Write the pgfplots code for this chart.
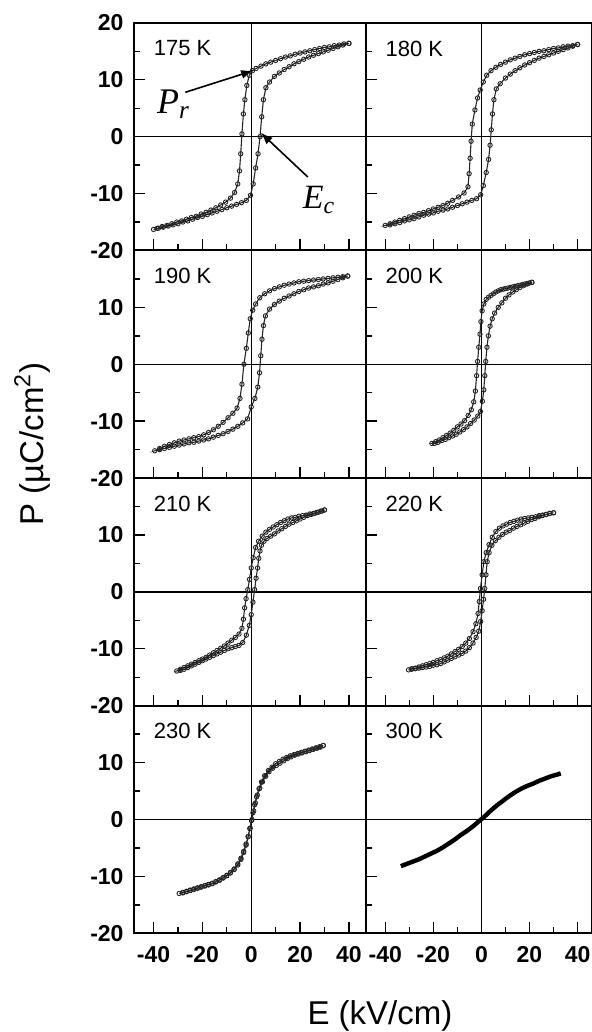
\documentclass[border=0pt]{standalone}
\usepackage{fontspec}
\setmainfont{Liberation Sans}
\newfontfamily\seriffont{Liberation Serif}
\usepackage{pgfplots}
\pgfplotsset{compat=1.18}
\usetikzlibrary{arrows.meta}

\tikzset{plabel/.style={anchor=west, inner sep=0pt, font=\fontsize{11}{12}\selectfont},
  zline/.style={line width=0.7pt}}
\pgfplotsset{
  panel/.style={
    scale only axis, height=113.8pt,
    ymin=-20, ymax=20,
    ytick={-20,-10,0,10,20}, minor ytick={-15,-5,5,15},
    xtick={-40,-20,0,20,40}, minor xtick={-30,-10,10,30},
    xtick pos=bottom, ytick pos=left,
    tick align=inside,
    major tick length=5.5pt, minor tick length=3pt,
    tick style={black, line width=0.7pt},
    axis line style={black, line width=1pt},
    xticklabels={}, yticklabels={},
    tick label style={font=\fontsize{11.5}{12}\selectfont\bfseries},
    yticklabel style={xshift=-1.7pt},
    xticklabel style={yshift=-3.2pt},
  },
  leftp/.style={panel, at={(67pt,#1)}, anchor=south west, width=116pt, xmin=-48, xmax=47},
  rightp/.style={panel, at={(183pt,#1)}, anchor=south west, width=113pt, xmin=-48, xmax=46},
  hloop/.style={black!85, line width=0.55pt, mark=o, mark size=1.1pt, mark options={line width=0.45pt, fill=white}},
}

\begin{document}
\begin{tikzpicture}
\path[use as bounding box] (0,0) rectangle (295.5pt,516pt);

% ---------- 175 K ----------
\begin{axis}[leftp=390.75pt, yticklabels={-20,-10,0,10,20}]
\draw[zline] (axis cs:0,-20) -- (axis cs:0,20);
\draw[zline] (axis cs:-48,0) -- (axis cs:47,0);
\addplot[hloop] coordinates {
(40,16.4)(38,16.3)(36,16.1)(34,16.0)(32,15.8)(30,15.7)(28,15.5)(26,15.3)(24,15.1)(22,14.9)(20,14.7)(18,14.5)(16,14.2)(14,14.0)(12,13.7)(10,13.4)(8,13.1)(6,12.8)(4,12.4)(2,12.0)(0.5,11.6)(-0.8,10.8)(-1.8,9.0)(-2.6,6.5)(-3.2,4.0)(-3.8,0.5)(-4.3,-3.0)(-4.8,-6.0)(-5.5,-8.3)(-6.8,-9.8)(-8.5,-10.8)(-10.5,-11.5)(-12.5,-12.0)(-14.5,-12.5)(-16.5,-12.9)(-18.5,-13.3)(-20.5,-13.6)(-22.5,-14.0)(-24.5,-14.2)(-26.5,-14.5)(-28.5,-14.8)(-30.5,-15.0)(-32.5,-15.3)(-34.5,-15.6)(-36.5,-15.8)(-38.5,-16.1)(-40,-16.3)
(-38,-16.1)(-36,-15.9)(-34,-15.7)(-32,-15.5)(-30,-15.3)(-28,-15.0)(-26,-14.8)(-24,-14.5)(-22,-14.2)(-20,-14.0)(-18,-13.7)(-16,-13.4)(-14,-13.1)(-12,-12.8)(-10,-12.5)(-8,-12.2)(-6,-11.9)(-4,-11.6)(-2,-11.2)(-0.3,-10.3)(0.8,-8.3)(1.8,-5.5)(2.8,-3.0)(3.6,0.0)(4.3,3.5)(5.0,6.5)(6.0,8.6)(7.5,9.6)(9.5,10.6)(11.5,11.2)(13.5,11.8)(15.5,12.3)(17.5,12.8)(19.5,13.2)(21.5,13.6)(23.5,14.0)(25.5,14.3)(27.5,14.6)(29.5,14.9)(31.5,15.2)(33.5,15.5)(35.5,15.8)(37.5,16.1)(40,16.4)
};
\node[plabel] at (axis cs:-40,15.5) {175 K};
\node[anchor=base west, inner sep=0pt, font=\seriffont\itshape\fontsize{18}{20}\selectfont] at (axis cs:-38.7,4.1) {P\textsubscript{r}};
\draw[-{Latex[length=6pt,width=4.5pt]}, line width=0.8pt] (axis cs:-27,7.8) -- (axis cs:0.8,11.6);
\node[anchor=base west, inner sep=0pt, font=\seriffont\itshape\fontsize{17}{20}\selectfont] at (axis cs:21,-12.6) {E\textsubscript{c}};
\draw[-{Latex[length=6pt,width=4.5pt]}, line width=0.8pt] (axis cs:23.2,-7.1) -- (axis cs:3.9,0.7);
\end{axis}

% ---------- 180 K ----------
\begin{axis}[rightp=390.75pt]
\draw[zline] (axis cs:0,-20) -- (axis cs:0,20);
\draw[zline] (axis cs:-48,0) -- (axis cs:46,0);
\addplot[hloop] coordinates {
(40,16.2)(38,16.0)(36,15.9)(34,15.8)(32,15.6)(30,15.5)(28,15.3)(26,15.1)(24,15.0)(22,14.8)(20,14.6)(18,14.4)(16,14.1)(14,13.8)(12,13.5)(10,13.1)(8,12.7)(6,12.2)(4,11.6)(2.2,10.8)(0.8,9.6)(-0.5,8.2)(-1.6,6.8)(-2.7,4.7)(-3.8,2.2)(-4.3,-0.8)(-4.7,-3.8)(-5.1,-6.5)(-5.6,-8.8)(-7.2,-9.9)(-9.5,-10.6)(-12,-11.2)(-14,-11.7)(-16,-12.1)(-18,-12.4)(-20,-12.7)(-22,-13.0)(-24,-13.3)(-26,-13.5)(-28,-13.8)(-30,-14.1)(-32,-14.4)(-34,-14.7)(-36,-15.0)(-38,-15.3)(-40,-15.6)
(-38,-15.5)(-36,-15.3)(-34,-15.1)(-32,-14.8)(-30,-14.6)(-28,-14.4)(-26,-14.1)(-24,-13.8)(-22,-13.6)(-20,-13.4)(-18,-13.1)(-16,-12.9)(-14,-12.7)(-12,-12.4)(-10,-12.1)(-8,-11.8)(-6,-11.5)(-4,-11.2)(-2,-10.9)(-0.3,-10.2)(0.8,-8.6)(2.0,-6.3)(3.0,-4.0)(3.6,-1.5)(4.1,1.2)(4.6,4.0)(5.2,6.5)(6.2,8.4)(7.8,9.3)(10,10.3)(12,11.0)(14,11.6)(16,12.1)(18,12.6)(20,13.0)(22,13.4)(24,13.8)(26,14.1)(28,14.4)(30,14.7)(32,15.0)(34,15.3)(36,15.6)(38,15.9)(40,16.2)
};
\node[plabel] at (axis cs:-40,15.5) {180 K};
\end{axis}

% ---------- 190 K ----------
\begin{axis}[leftp=276.95pt, yticklabels={-20,-10,0,10,{}}]
\draw[zline] (axis cs:0,-20) -- (axis cs:0,20);
\draw[zline] (axis cs:-48,0) -- (axis cs:47,0);
\addplot[hloop] coordinates {
(39.5,15.5)(37.5,15.4)(35.5,15.3)(33.5,15.2)(31.5,15.1)(29.5,15.0)(27.5,14.9)(25.5,14.8)(23.5,14.7)(21.5,14.6)(19.5,14.5)(17.5,14.3)(15.5,14.1)(13.5,13.9)(11.5,13.6)(9.5,13.3)(7.5,12.9)(5.5,12.4)(3.5,11.7)(1.8,10.6)(0.6,9.5)(-0.4,8.0)(-1.2,5.5)(-2.0,2.8)(-3.0,0)(-3.8,-3.5)(-4.6,-6.0)(-5.8,-7.7)(-7.5,-8.6)(-9.5,-9.4)(-11.5,-10.2)(-13.5,-10.9)(-15.5,-11.5)(-17.5,-12.0)(-19.5,-12.4)(-21.5,-12.7)(-23.5,-12.9)(-25.5,-13.1)(-27.5,-13.3)(-29.5,-13.5)(-31.5,-13.8)(-33.5,-14.1)(-35.5,-14.4)(-37.5,-14.8)(-39.5,-15.2)
(-37.5,-15.0)(-35.5,-14.8)(-33.5,-14.6)(-31.5,-14.4)(-29.5,-14.2)(-27.5,-14.0)(-25.5,-13.8)(-23.5,-13.7)(-21.5,-13.5)(-19.5,-13.3)(-17.5,-13.1)(-15.5,-12.8)(-13.5,-12.5)(-11.5,-12.2)(-9.5,-11.8)(-7.5,-11.4)(-5.5,-10.9)(-3.5,-10.3)(-1.5,-9.6)(0,-7.5)(1.5,-6.0)(2.7,-4.0)(3.4,-1.5)(3.9,1.5)(4.4,4.4)(5.0,6.8)(5.8,8.5)(7.5,9.7)(9.5,10.5)(11.5,11.1)(13.5,11.6)(15.5,12.0)(17.5,12.4)(19.5,12.8)(21.5,13.1)(23.5,13.4)(25.5,13.6)(27.5,13.8)(29.5,14.1)(31.5,14.3)(33.5,14.6)(35.5,14.9)(37.5,15.2)(39.5,15.5)
};
\node[plabel] at (axis cs:-40,15.5) {190 K};
\end{axis}

% ---------- 200 K ----------
\begin{axis}[rightp=276.95pt]
\draw[zline] (axis cs:0,-20) -- (axis cs:0,20);
\draw[zline] (axis cs:-48,0) -- (axis cs:46,0);
\addplot[hloop] coordinates {
(21,14.4)(20,14.3)(19,14.2)(18,14.1)(17,14.0)(16,13.9)(15,13.8)(14,13.7)(13,13.6)(12,13.5)(11,13.4)(10,13.3)(9,13.2)(8,13.1)(7,12.9)(6,12.7)(5,12.4)(4,12.1)(3,11.8)(2,11.4)(1,10.6)(0.3,9.4)(-0.2,7.5)(-0.6,5.3)(-1.1,3.0)(-1.6,0.5)(-2.0,-2.0)(-2.5,-4.7)(-3.2,-6.6)(-4.2,-8.0)(-5.5,-9.0)(-7,-9.9)(-8.5,-10.5)(-10,-11.0)(-11.5,-11.6)(-13,-12.1)(-14.5,-12.5)(-16,-12.9)(-17.5,-13.3)(-19,-13.6)(-20.6,-13.9)
(-19.5,-13.9)(-18,-13.7)(-16.5,-13.4)(-15,-13.2)(-13.5,-12.9)(-12,-12.6)(-10.5,-12.3)(-9,-11.9)(-7.5,-11.5)(-6,-11.0)(-4.5,-10.4)(-3,-9.8)(-1.5,-9.1)(-0.4,-8.3)(0.4,-6.5)(1.0,-4.5)(1.4,-2.0)(1.8,0.5)(2.3,3.0)(2.9,5.0)(3.6,6.7)(4.5,8.0)(5.5,9.0)(7,10.0)(8.5,10.8)(10,11.6)(11.5,12.2)(13,12.7)(14.5,13.1)(16,13.5)(17.5,13.8)(19,14.1)(21,14.4)
};
\node[plabel] at (axis cs:-40,15.5) {200 K};
\end{axis}

% ---------- 210 K ----------
\begin{axis}[leftp=163.15pt, yticklabels={-20,-10,0,10,{}}]
\draw[zline] (axis cs:0,-20) -- (axis cs:0,20);
\draw[zline] (axis cs:-48,0) -- (axis cs:47,0);
\addplot[hloop] coordinates {
(30,14.4)(28.5,14.2)(27,14.0)(25.5,13.8)(24,13.7)(22.5,13.5)(21,13.4)(19.5,13.3)(18,13.1)(16.5,13.0)(15,12.8)(13.5,12.5)(12,12.2)(10.5,11.8)(9,11.4)(7.5,11.0)(6,10.5)(4.5,9.8)(3,8.9)(1.8,7.8)(0.8,6.0)(0,4.2)(-0.7,2.2)(-1.4,0.4)(-2.1,-1.2)(-2.7,-2.8)(-3.2,-4.8)(-3.8,-6.4)(-5,-7.4)(-6.5,-8.0)(-8,-8.5)(-9.5,-9.0)(-11,-9.5)(-12.5,-9.9)(-14,-10.3)(-15.5,-10.7)(-17,-11.1)(-18.5,-11.5)(-20,-11.8)(-21.5,-12.1)(-23,-12.4)(-24.5,-12.7)(-26,-13.0)(-27.5,-13.3)(-29,-13.6)(-30.5,-13.9)
(-29,-13.8)(-27.5,-13.6)(-26,-13.3)(-24.5,-13.0)(-23,-12.7)(-21.5,-12.4)(-20,-12.1)(-18.5,-11.8)(-17,-11.5)(-15.5,-11.2)(-14,-10.9)(-12.5,-10.6)(-11,-10.3)(-9.5,-10.0)(-8,-9.8)(-6.5,-9.6)(-5,-9.4)(-3.5,-8.9)(-2,-7.6)(-0.8,-5.9)(0,-4.0)(0.7,-1.8)(1.4,0.4)(2,2.4)(2.6,4.2)(3.1,5.9)(3.6,7.2)(4.2,8.2)(5.2,8.9)(6.5,9.4)(8,9.8)(9.5,10.2)(11,10.7)(12.5,11.1)(14,11.5)(15.5,11.9)(17,12.2)(18.5,12.5)(20,12.8)(21.5,13.1)(23,13.4)(24.5,13.6)(26,13.8)(27.5,14.0)(29,14.2)(30,14.4)
};
\node[plabel] at (axis cs:-40,15.5) {210 K};
\end{axis}

% ---------- 220 K ----------
\begin{axis}[rightp=163.15pt]
\draw[zline] (axis cs:0,-20) -- (axis cs:0,20);
\draw[zline] (axis cs:-48,0) -- (axis cs:46,0);
\addplot[hloop] coordinates {
(30,13.9)(28.5,13.8)(27,13.6)(25.5,13.5)(24,13.4)(22.5,13.2)(21,13.1)(19.5,13.0)(18,12.9)(16.5,12.8)(15,12.6)(13.5,12.4)(12,12.2)(10.5,11.9)(9,11.6)(7.5,11.2)(6,10.6)(4.5,9.6)(3.2,8.3)(2,6.9)(1,5.3)(0.3,3.0)(-0.4,0.6)(-0.9,-1.7)(-1.4,-3.8)(-2.3,-5.6)(-3.5,-7.0)(-5,-8.2)(-6.5,-9.0)(-8,-9.6)(-9.5,-10.1)(-11,-10.5)(-12.5,-10.9)(-14,-11.3)(-15.5,-11.6)(-17,-11.9)(-18.5,-12.1)(-20,-12.4)(-21.5,-12.6)(-23,-12.8)(-24.5,-13.0)(-26,-13.2)(-27.5,-13.4)(-29,-13.5)(-30.3,-13.7)
(-29,-13.6)(-27.5,-13.5)(-26,-13.4)(-24.5,-13.3)(-23,-13.2)(-21.5,-13.1)(-20,-12.9)(-18.5,-12.8)(-17,-12.6)(-15.5,-12.3)(-14,-12.0)(-12.5,-11.7)(-11,-11.4)(-9.5,-11.1)(-8,-10.8)(-6.5,-10.4)(-5,-9.8)(-3.5,-9.0)(-2.2,-8.0)(-1.1,-6.9)(-0.3,-5.2)(0.3,-3.3)(0.9,-1.3)(1.4,0.6)(1.9,3.0)(2.4,5.3)(3.2,6.9)(4.4,8.2)(5.8,9.0)(7.3,9.6)(8.8,10.1)(10.3,10.5)(11.8,10.8)(13.3,11.2)(14.8,11.5)(16.3,11.8)(17.8,12.1)(19.3,12.4)(20.8,12.7)(22.3,12.9)(23.8,13.2)(25.3,13.4)(26.8,13.6)(28.3,13.8)(30,13.9)
};
\node[plabel] at (axis cs:-40,15.5) {220 K};
\end{axis}

% ---------- 230 K ----------
\begin{axis}[leftp=49.35pt, yticklabels={-20,-10,0,10,{}}, xticklabels={-40,-20,0,20,40}]
\draw[zline] (axis cs:0,-20) -- (axis cs:0,20);
\draw[zline] (axis cs:-48,0) -- (axis cs:47,0);
\addplot[hloop] coordinates {
(29.5,13.0)(28,12.8)(26.5,12.6)(25,12.4)(23.5,12.2)(22,12.0)(20.5,11.8)(19,11.6)(17.5,11.4)(16,11.2)(14.5,10.9)(13,10.6)(11.5,10.2)(10,9.8)(8.5,9.2)(7,8.6)(5.5,7.7)(4.2,6.6)(3.2,5.4)(2.2,4.0)(1.4,2.6)(0.7,1.2)(0.1,-0.2)(-0.6,-1.6)(-1.3,-3.0)(-2.1,-4.3)(-3.1,-5.6)(-4.2,-6.8)(-5.5,-7.8)(-7,-8.7)(-8.5,-9.3)(-10,-9.8)(-11.5,-10.2)(-13,-10.6)(-14.5,-10.9)(-16,-11.2)(-17.5,-11.4)(-19,-11.6)(-20.5,-11.8)(-22,-12.0)(-23.5,-12.2)(-25,-12.4)(-26.5,-12.6)(-28,-12.8)(-29.5,-13.0)
(-28,-12.9)(-26.5,-12.7)(-25,-12.5)(-23.5,-12.3)(-22,-12.1)(-20.5,-11.9)(-19,-11.7)(-17.5,-11.5)(-16,-11.3)(-14.5,-11.0)(-13,-10.7)(-11.5,-10.3)(-10,-9.9)(-8.5,-9.4)(-7,-8.8)(-5.5,-8.0)(-4.2,-7.0)(-3.1,-5.8)(-2.1,-4.5)(-1.2,-3.0)(-0.4,-1.5)(0.3,0)(1.0,1.5)(1.7,2.9)(2.5,4.3)(3.5,5.5)(4.6,6.6)(5.9,7.6)(7.3,8.4)(8.8,9.0)(10.3,9.5)(11.8,9.9)(13.3,10.3)(14.8,10.7)(16.3,11.0)(17.8,11.3)(19.3,11.5)(20.8,11.7)(22.3,11.9)(23.8,12.1)(25.3,12.3)(26.8,12.5)(28.3,12.7)(29.5,13.0)
};
\node[plabel] at (axis cs:-40,15.5) {230 K};
\end{axis}

% ---------- 300 K ----------
\begin{axis}[rightp=49.35pt, xticklabels={-40,-20,0,20,40}]
\draw[zline] (axis cs:0,-20) -- (axis cs:0,20);
\draw[zline] (axis cs:-48,0) -- (axis cs:46,0);
\addplot[black, line width=2.2pt] coordinates {
(-33.5,-8.2)(-31,-7.8)(-28.5,-7.4)(-26,-7.0)(-23.5,-6.5)(-21,-6.0)(-18.5,-5.5)(-16,-4.9)(-13.5,-4.2)(-11,-3.5)(-8.5,-2.7)(-6,-2.0)(-3.5,-1.2)(-1,-0.3)(1.5,0.6)(4,1.6)(6.5,2.5)(9,3.3)(11.5,4.1)(14,4.8)(16.5,5.4)(19,5.9)(21.5,6.3)(24,6.8)(26.5,7.2)(29,7.6)(31.5,7.9)(33,8.1)
};
\node[plabel] at (axis cs:-40,15.5) {300 K};
\end{axis}

\node[font=\fontsize{16.5}{18}\selectfont, anchor=base, inner sep=0pt] at (190pt,3.5pt) {E (kV/cm)};
\node[font=\fontsize{16.5}{18}\selectfont, anchor=base, rotate=90, inner sep=0pt] at (21.5pt,294pt) {P (µC/cm\textsuperscript{2})};
\end{tikzpicture}
\end{document}
